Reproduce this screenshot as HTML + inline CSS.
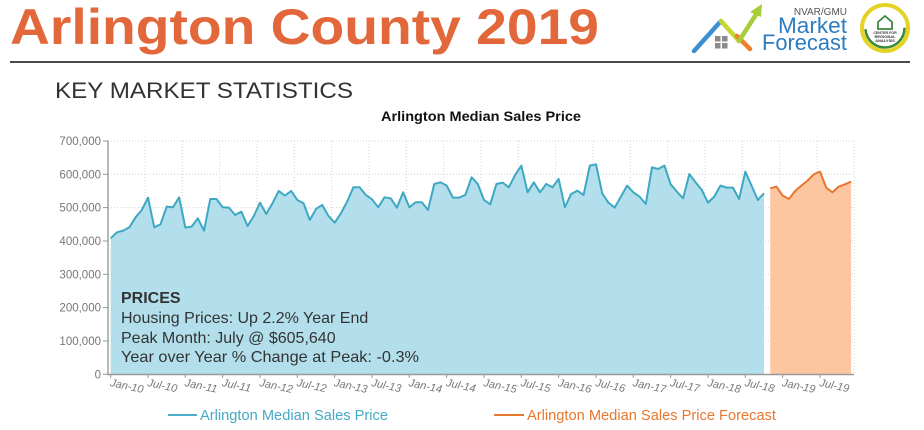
<!DOCTYPE html>
<html>
<head>
<meta charset="utf-8">
<style>
  html, body { margin:0; padding:0; background:#fff; }
  body { width:924px; height:430px; overflow:hidden; position:relative; }
  svg { position:absolute; left:0; top:0; }
  text { font-family: "Liberation Sans", Arial, sans-serif; }
</style>
</head>
<body>
<svg width="924" height="430" viewBox="0 0 924 430" xmlns="http://www.w3.org/2000/svg">
  <rect x="0" y="0" width="924" height="430" fill="#ffffff"/>

  <!-- Header -->
  <text x="10" y="44" font-size="50" font-weight="bold" fill="#e2683b" textLength="589" lengthAdjust="spacingAndGlyphs">Arlington County 2019</text>
  <line x1="10" y1="62" x2="910" y2="62" stroke="#4a4a4a" stroke-width="2"/>
  <text x="55" y="98" font-size="22" fill="#333" textLength="298" lengthAdjust="spacingAndGlyphs">KEY MARKET STATISTICS</text>

  <!-- Logo -->
  <g>
    <rect x="715" y="36" width="5.5" height="5.5" fill="#8a8a8a"/>
    <rect x="722" y="36" width="5.5" height="5.5" fill="#8a8a8a"/>
    <rect x="715" y="43" width="5.5" height="5.5" fill="#8a8a8a"/>
    <rect x="722" y="43" width="5.5" height="5.5" fill="#8a8a8a"/>
    <polyline points="694,51 721,21" fill="none" stroke="#3b8fd0" stroke-width="4.5" stroke-linecap="round"/>
    <polyline points="721,21 739,41" fill="none" stroke="#c5d531" stroke-width="4.5" stroke-linecap="round"/>
    <polyline points="737,36 750,49" fill="none" stroke="#ef7d2a" stroke-width="4.5" stroke-linecap="round"/>
    <polyline points="739,41 757,13" fill="none" stroke="#a7cd3a" stroke-width="4.5" stroke-linecap="round"/>
    <polygon points="762,4 761,17 750,12" fill="#a7cd3a"/>
    <text x="847" y="15" font-size="10" fill="#555" text-anchor="end">NVAR/GMU</text>
    <text x="847" y="33" font-size="22" fill="#2b7cc1" text-anchor="end" textLength="69" lengthAdjust="spacingAndGlyphs">Market</text>
    <text x="847" y="50" font-size="22" fill="#2b7cc1" text-anchor="end" textLength="85" lengthAdjust="spacingAndGlyphs">Forecast</text>
    <circle cx="885" cy="28" r="23" fill="#ffffff" stroke="#e4d224" stroke-width="4"/>
    <circle cx="885" cy="28" r="19.5" fill="#ffffff" stroke="#3b8a3c" stroke-width="2.5" stroke-dasharray="60 62"/>
    <path d="M878,22 L885,16 L892,22 L892,29 L878,29 Z" fill="none" stroke="#3b8a3c" stroke-width="1.8"/>
    <text x="885" y="34" font-size="3.6" fill="#333" text-anchor="middle" font-weight="bold">CENTER FOR</text>
    <text x="885" y="38" font-size="4" fill="#333" text-anchor="middle" font-weight="bold">REGIONAL</text>
    <text x="885" y="42" font-size="4" fill="#333" text-anchor="middle" font-weight="bold">ANALYSIS</text>
  </g>

  <!-- Chart title -->
  <text x="381" y="121" font-size="14" font-weight="bold" fill="#111" textLength="200" lengthAdjust="spacingAndGlyphs">Arlington Median Sales Price</text>

  <!-- Gridlines (under) -->
  <g stroke="#d4d4d4" stroke-width="1" stroke-dasharray="1 2" fill="none">
    <line x1="108" y1="141" x2="854" y2="141"/>
    <line x1="108" y1="174.3" x2="854" y2="174.3"/>
    <line x1="108" y1="207.6" x2="854" y2="207.6"/>
    <line x1="108" y1="241" x2="854" y2="241"/>
    <line x1="108" y1="274.3" x2="854" y2="274.3"/>
    <line x1="108" y1="307.6" x2="854" y2="307.6"/>
    <line x1="108" y1="341" x2="854" y2="341"/>
  </g>
  <g stroke="#d4d4d4" stroke-width="1" stroke-dasharray="1 2" fill="none">
    <line x1="145" y1="141" x2="145" y2="374"/>
    <line x1="182.3" y1="141" x2="182.3" y2="374"/>
    <line x1="219.6" y1="141" x2="219.6" y2="374"/>
    <line x1="257" y1="141" x2="257" y2="374"/>
    <line x1="294.3" y1="141" x2="294.3" y2="374"/>
    <line x1="331.6" y1="141" x2="331.6" y2="374"/>
    <line x1="369" y1="141" x2="369" y2="374"/>
    <line x1="406.3" y1="141" x2="406.3" y2="374"/>
    <line x1="443.6" y1="141" x2="443.6" y2="374"/>
    <line x1="481" y1="141" x2="481" y2="374"/>
    <line x1="518.3" y1="141" x2="518.3" y2="374"/>
    <line x1="555.6" y1="141" x2="555.6" y2="374"/>
    <line x1="593" y1="141" x2="593" y2="374"/>
    <line x1="630.3" y1="141" x2="630.3" y2="374"/>
    <line x1="667.6" y1="141" x2="667.6" y2="374"/>
    <line x1="705" y1="141" x2="705" y2="374"/>
    <line x1="742.3" y1="141" x2="742.3" y2="374"/>
    <line x1="779.6" y1="141" x2="779.6" y2="374"/>
    <line x1="817" y1="141" x2="817" y2="374"/>
    <line x1="854" y1="141" x2="854" y2="374"/>
  </g>

  <!-- Series in data coordinates: x = month index, y = thousands -->
  <g transform="matrix(6.222 0 0 -0.33333 110.7 374.3)">
    <polygon fill="#b2dfeb" points="0,0 0,408 1,426 2,431 3,441 4,471 5,493 6,530 7,441 8,450 9,503 10,501 11,531 12,440 13,443 14,468 15,431 16,526 17,526 18,501 19,500 20,478 21,488 22,445 23,475 24,515 25,481 26,513 27,550 28,536 29,550 30,523 31,513 32,463 33,496 34,508 35,475 36,455 37,483 38,518 39,561 40,561 41,538 42,525 43,501 44,531 45,528 46,500 47,546 48,501 49,516 50,516 51,493 52,571 53,576 54,566 55,530 56,530 57,538 58,591 59,571 60,523 61,510 62,571 63,575 64,561 65,598 66,626 67,546 68,576 69,546 70,571 71,561 72,586 73,501 74,541 75,551 76,538 77,626 78,630 79,543 80,515 81,500 82,533 83,566 84,546 85,533 86,511 87,621 88,616 89,626 90,570 91,548 92,528 93,601 94,576 95,553 96,515 97,533 98,566 99,560 100,560 101,526 102,608 103,566 104,523 105,543 105,0"/>
    <polygon fill="#fcc6a0" points="106,0 106,558 107,563 108,536 109,526 110,550 111,566 112,581 113,600 114,608 115,560 116,546 117,563 118,570 119,578 119,0"/>
    <polyline fill="none" stroke="#3ea8c2" stroke-width="2" stroke-linejoin="round" vector-effect="non-scaling-stroke" points="0,408 1,426 2,431 3,441 4,471 5,493 6,530 7,441 8,450 9,503 10,501 11,531 12,440 13,443 14,468 15,431 16,526 17,526 18,501 19,500 20,478 21,488 22,445 23,475 24,515 25,481 26,513 27,550 28,536 29,550 30,523 31,513 32,463 33,496 34,508 35,475 36,455 37,483 38,518 39,561 40,561 41,538 42,525 43,501 44,531 45,528 46,500 47,546 48,501 49,516 50,516 51,493 52,571 53,576 54,566 55,530 56,530 57,538 58,591 59,571 60,523 61,510 62,571 63,575 64,561 65,598 66,626 67,546 68,576 69,546 70,571 71,561 72,586 73,501 74,541 75,551 76,538 77,626 78,630 79,543 80,515 81,500 82,533 83,566 84,546 85,533 86,511 87,621 88,616 89,626 90,570 91,548 92,528 93,601 94,576 95,553 96,515 97,533 98,566 99,560 100,560 101,526 102,608 103,566 104,523 105,543"/>
    <polyline fill="none" stroke="#e8772e" stroke-width="2" stroke-linejoin="round" vector-effect="non-scaling-stroke" points="106,558 107,563 108,536 109,526 110,550 111,566 112,581 113,600 114,608 115,560 116,546 117,563 118,570 119,578"/>
  </g>

  <!-- faint gridlines over area -->
  <g stroke="#9ccbd8" stroke-width="1" stroke-dasharray="1 2" fill="none" opacity="0.6">
    <line x1="108" y1="274.3" x2="762" y2="274.3"/>
    <line x1="108" y1="307.6" x2="762" y2="307.6"/>
    <line x1="108" y1="341" x2="762" y2="341"/>
  </g>

  <!-- Axes -->
  <line x1="108" y1="141" x2="108" y2="375" stroke="#8c8c8c" stroke-width="1.2"/>
  <line x1="107" y1="374.5" x2="854" y2="374.5" stroke="#9a9a9a" stroke-width="1.5"/>
  <g stroke="#999" stroke-width="1">
    <line x1="103" y1="141" x2="108" y2="141"/>
    <line x1="103" y1="174.3" x2="108" y2="174.3"/>
    <line x1="103" y1="207.6" x2="108" y2="207.6"/>
    <line x1="103" y1="241" x2="108" y2="241"/>
    <line x1="103" y1="274.3" x2="108" y2="274.3"/>
    <line x1="103" y1="307.6" x2="108" y2="307.6"/>
    <line x1="103" y1="341" x2="108" y2="341"/>
    <line x1="103" y1="374.3" x2="108" y2="374.3"/>
  </g>

  <!-- Y labels -->
  <g font-size="11.5" fill="#777" text-anchor="end">
    <text x="101" y="145">700,000</text>
    <text x="101" y="178.3">600,000</text>
    <text x="101" y="211.6">500,000</text>
    <text x="101" y="245">400,000</text>
    <text x="101" y="278.3">300,000</text>
    <text x="101" y="311.6">200,000</text>
    <text x="101" y="345">100,000</text>
    <text x="101" y="378.3">0</text>
  </g>

  <!-- X ticks -->
  <g stroke="#999" stroke-width="1">
    <line x1="110.7" y1="374" x2="110.7" y2="378"/>
    <line x1="148" y1="374" x2="148" y2="378"/>
    <line x1="185.3" y1="374" x2="185.3" y2="378"/>
    <line x1="222.6" y1="374" x2="222.6" y2="378"/>
    <line x1="260" y1="374" x2="260" y2="378"/>
    <line x1="297.3" y1="374" x2="297.3" y2="378"/>
    <line x1="334.6" y1="374" x2="334.6" y2="378"/>
    <line x1="372" y1="374" x2="372" y2="378"/>
    <line x1="409.3" y1="374" x2="409.3" y2="378"/>
    <line x1="446.6" y1="374" x2="446.6" y2="378"/>
    <line x1="484" y1="374" x2="484" y2="378"/>
    <line x1="521.3" y1="374" x2="521.3" y2="378"/>
    <line x1="558.6" y1="374" x2="558.6" y2="378"/>
    <line x1="596" y1="374" x2="596" y2="378"/>
    <line x1="633.3" y1="374" x2="633.3" y2="378"/>
    <line x1="670.6" y1="374" x2="670.6" y2="378"/>
    <line x1="708" y1="374" x2="708" y2="378"/>
    <line x1="745.3" y1="374" x2="745.3" y2="378"/>
    <line x1="782.6" y1="374" x2="782.6" y2="378"/>
    <line x1="820" y1="374" x2="820" y2="378"/>
  </g>

  <!-- X labels -->
  <g font-size="11" fill="#777" font-style="italic">
    <text transform="translate(109.7 386) rotate(12)">Jan-10</text>
    <text transform="translate(147 386) rotate(12)">Jul-10</text>
    <text transform="translate(184.3 386) rotate(12)">Jan-11</text>
    <text transform="translate(221.6 386) rotate(12)">Jul-11</text>
    <text transform="translate(259 386) rotate(12)">Jan-12</text>
    <text transform="translate(296.3 386) rotate(12)">Jul-12</text>
    <text transform="translate(333.6 386) rotate(12)">Jan-13</text>
    <text transform="translate(371 386) rotate(12)">Jul-13</text>
    <text transform="translate(408.3 386) rotate(12)">Jan-14</text>
    <text transform="translate(445.6 386) rotate(12)">Jul-14</text>
    <text transform="translate(483 386) rotate(12)">Jan-15</text>
    <text transform="translate(520.3 386) rotate(12)">Jul-15</text>
    <text transform="translate(557.6 386) rotate(12)">Jan-16</text>
    <text transform="translate(595 386) rotate(12)">Jul-16</text>
    <text transform="translate(632.3 386) rotate(12)">Jan-17</text>
    <text transform="translate(669.6 386) rotate(12)">Jul-17</text>
    <text transform="translate(707 386) rotate(12)">Jan-18</text>
    <text transform="translate(744.3 386) rotate(12)">Jul-18</text>
    <text transform="translate(781.6 386) rotate(12)">Jan-19</text>
    <text transform="translate(819 386) rotate(12)">Jul-19</text>
  </g>

  <!-- Prices annotation -->
  <g font-size="16" fill="#333">
    <text x="121" y="303" font-weight="bold">PRICES</text>
    <text x="121" y="323">Housing Prices: Up 2.2% Year End</text>
    <text x="121" y="343">Peak Month: July @ $605,640</text>
    <text x="121" y="362" textLength="298" lengthAdjust="spacingAndGlyphs">Year over Year % Change at Peak: -0.3%</text>
  </g>

  <!-- Legend -->
  <line x1="168" y1="415" x2="197" y2="415" stroke="#4ab0c8" stroke-width="2"/>
  <text x="200" y="420" font-size="14.5" fill="#44aac5" textLength="188" lengthAdjust="spacingAndGlyphs">Arlington Median Sales Price</text>
  <line x1="494" y1="415" x2="524" y2="415" stroke="#e8772e" stroke-width="2"/>
  <text x="527" y="420" font-size="14.5" fill="#e8772e" textLength="249" lengthAdjust="spacingAndGlyphs">Arlington Median Sales Price Forecast</text>
</svg>
</body>
</html>
